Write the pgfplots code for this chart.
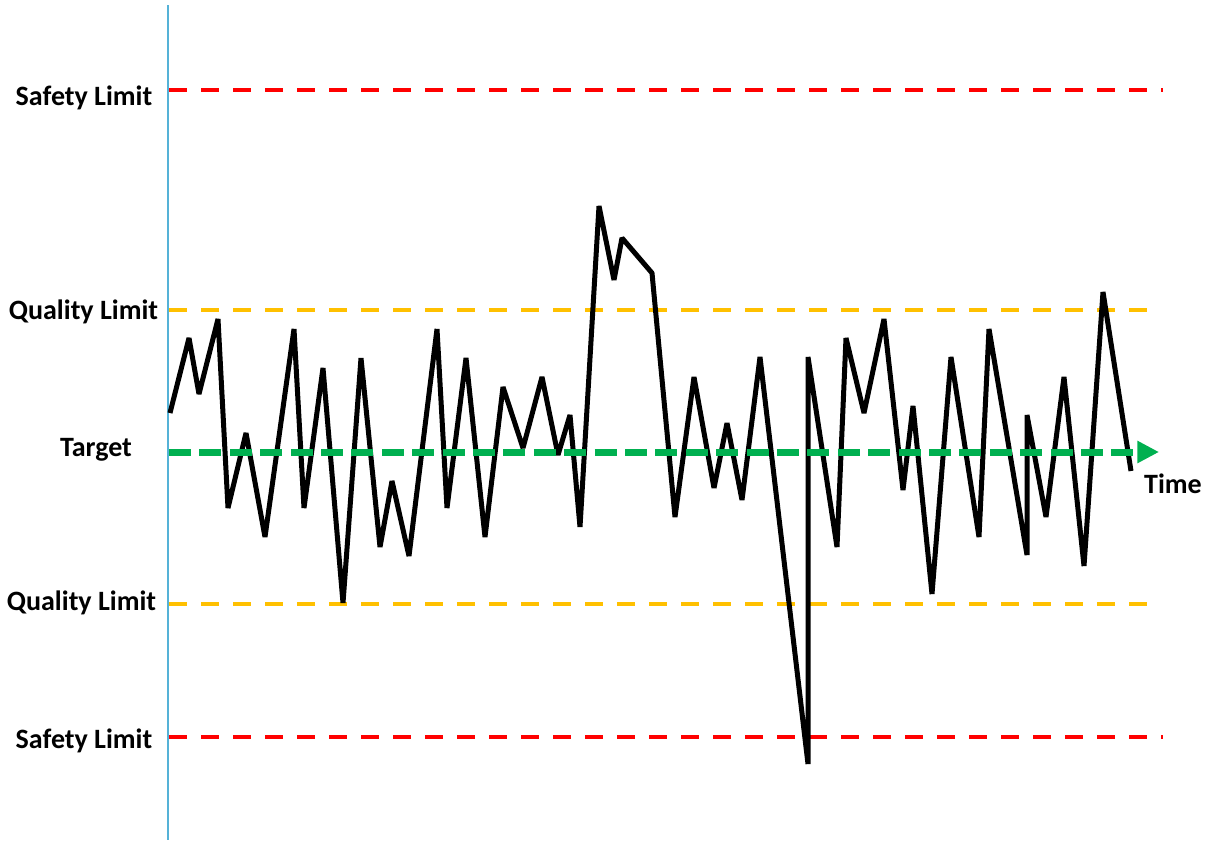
\documentclass[border=0pt]{standalone}
\usepackage{pgfplots}
\pgfplotsset{compat=1.18}
\usetikzlibrary{arrows.meta}
\usepackage{fontspec}
\setmainfont{Carlito}

\definecolor{safetyred}{RGB}{255,0,0}
\definecolor{qualityorange}{RGB}{255,192,0}
\definecolor{targetgreen}{RGB}{0,176,80}
\definecolor{axisblue}{RGB}{85,178,215}

\tikzset{lbl/.style={font=\bfseries\fontsize{14}{16}\selectfont, inner sep=0pt, anchor=base}}

% 1 px of the reference = 0.5pt, coordinates are pixels (y downwards)
\begin{document}
\begin{tikzpicture}
\begin{axis}[
  width=605.5pt, height=421pt, scale only axis,
  xmin=0, xmax=1211, ymin=0, ymax=842, y dir=reverse,
  axis lines=none, ticks=none, clip=false,
]
\path (rel axis cs:0,0) rectangle (rel axis cs:1,1);

% vertical axis
\addplot[axisblue, line width=0.75pt, mark=none] coordinates {(168,5) (168,840)};

% limits
\addplot[safetyred, line width=2.15pt, dash pattern=on 9pt off 7pt, mark=none]
  coordinates {(169,90) (1163,90)};
\addplot[safetyred, line width=2.15pt, dash pattern=on 9pt off 7pt, mark=none]
  coordinates {(169,737) (1163,737)};
\addplot[qualityorange, line width=2.15pt, dash pattern=on 9pt off 7pt, mark=none]
  coordinates {(169,310) (1159,310)};
\addplot[qualityorange, line width=2.15pt, dash pattern=on 9pt off 7pt, mark=none]
  coordinates {(169,604) (1159,604)};

% process signal
\addplot[black, line width=2.5pt, line join=bevel, mark=none] coordinates {
  (170,413) (189,338) (199,394) (218,319) (228,508) (246,433) (265,537)
  (294,329) (304,508) (323,368) (343,603) (361,358) (380,547) (392,481)
  (409,556) (437,329) (447,508) (466,358) (485,537) (503,387) (523,448)
  (542,377) (558,455) (570,415) (580,527) (599,206) (614,280) (622,238)
  (652,273) (675,517) (694,377) (714,488) (727,423) (742,500) (760,357)
  (808,764) (808,357) (837,547) (846,338) (864,413) (884,319) (903,490)
  (913,406) (932,594) (951,357) (979,537) (989,329) (1027,555) (1027,415)
  (1046,517) (1064,377) (1084,566) (1103,292) (1131,471)
};

% target / time arrow
\addplot[targetgreen, line width=3.5pt, dash pattern=on 11pt off 4.2pt, mark=none,
  -{Triangle[length=10.8pt, width=10.5pt]}]
  coordinates {(169,452) (1159,452)};

% labels
\node[lbl] at (axis cs:84,105) {Safety Limit};
\node[lbl] at (axis cs:83.5,319) {Quality Limit};
\node[lbl] at (axis cs:96,456) {Target};
\node[lbl] at (axis cs:81.5,610) {Quality Limit};
\node[lbl] at (axis cs:84,748) {Safety Limit};
\node[lbl] at (axis cs:1173,493) {Time};
\end{axis}
\end{tikzpicture}
\end{document}
